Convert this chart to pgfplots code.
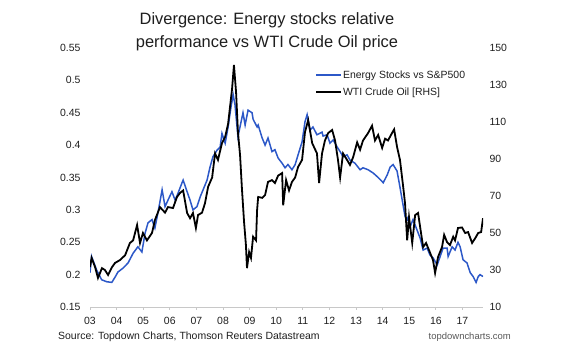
\documentclass[border=0pt]{standalone}
\usepackage{pgfplots}
\pgfplotsset{compat=1.18}
\usepackage{fontspec}
\setmainfont{Liberation Sans}
\definecolor{eblue}{RGB}{44,88,200}
\definecolor{axgray}{RGB}{200,200,200}
\definecolor{txt}{RGB}{30,30,30}

\pgfplotstableread{
yr val
2003.00 0.203
2003.06 0.228
2003.25 0.207
2003.44 0.192
2003.63 0.189
2003.82 0.188
2003.94 0.196
2004.05 0.204
2004.24 0.210
2004.43 0.218
2004.62 0.233
2004.80 0.243
2004.95 0.235
2005.07 0.264
2005.18 0.280
2005.33 0.285
2005.44 0.272
2005.56 0.297
2005.71 0.331
2005.82 0.305
2005.93 0.315
2006.08 0.328
2006.20 0.315
2006.31 0.326
2006.46 0.342
2006.50 0.346
2006.65 0.328
2006.76 0.315
2006.87 0.300
2007.02 0.305
2007.14 0.320
2007.25 0.331
2007.40 0.346
2007.51 0.366
2007.62 0.382
2007.77 0.392
2007.89 0.397
2007.96 0.418
2008.08 0.403
2008.19 0.428
2008.30 0.459
2008.38 0.478
2008.45 0.462
2008.56 0.413
2008.75 0.450
2008.83 0.431
2008.94 0.454
2009.09 0.450
2009.13 0.440
2009.28 0.428
2009.32 0.431
2009.47 0.411
2009.58 0.400
2009.69 0.411
2009.84 0.390
2009.95 0.393
2010.07 0.380
2010.22 0.372
2010.33 0.365
2010.44 0.370
2010.59 0.362
2010.71 0.370
2010.82 0.385
2010.97 0.405
2011.08 0.436
2011.16 0.447
2011.27 0.423
2011.38 0.428
2011.53 0.416
2011.72 0.420
2011.76 0.414
2011.91 0.416
2012.02 0.403
2012.14 0.408
2012.29 0.397
2012.40 0.390
2012.51 0.382
2012.66 0.385
2012.77 0.377
2012.96 0.372
2013.15 0.362
2013.26 0.365
2013.45 0.362
2013.64 0.357
2013.83 0.350
2014.02 0.342
2014.17 0.354
2014.28 0.366
2014.39 0.370
2014.54 0.360
2014.65 0.335
2014.73 0.316
2014.84 0.290
2014.92 0.285
2014.95 0.288
2015.03 0.274
2015.14 0.285
2015.29 0.269
2015.41 0.256
2015.52 0.238
2015.67 0.241
2015.78 0.230
2015.89 0.226
2016.05 0.215
2016.16 0.228
2016.27 0.241
2016.42 0.241
2016.46 0.228
2016.61 0.243
2016.72 0.238
2016.83 0.250
2016.91 0.243
2017.02 0.223
2017.17 0.218
2017.29 0.203
2017.40 0.197
2017.51 0.188
2017.59 0.197
2017.66 0.200
2017.77 0.197
}\energy

\pgfplotstableread{
yr val
2003.00 31.6
2003.06 36.5
2003.19 31.6
2003.30 25.7
2003.45 31.0
2003.56 30.0
2003.68 27.3
2003.83 31.6
2003.94 33.8
2004.13 35.4
2004.32 38.0
2004.50 44.6
2004.62 46.0
2004.77 54.3
2004.88 44.6
2004.99 50.0
2005.14 46.0
2005.33 50.0
2005.44 57.0
2005.63 64.0
2005.82 61.0
2005.93 64.0
2006.12 63.5
2006.27 69.5
2006.38 71.6
2006.50 73.0
2006.65 60.8
2006.76 58.0
2006.87 60.8
2006.98 52.7
2007.06 59.7
2007.21 61.0
2007.32 66.0
2007.44 75.0
2007.59 80.0
2007.70 93.0
2007.81 89.5
2007.96 98.6
2008.08 102.0
2008.19 109.0
2008.34 128.0
2008.41 140.8
2008.49 126.0
2008.56 104.6
2008.64 92.0
2008.71 74.0
2008.79 56.0
2008.86 43.5
2008.90 31.0
2008.98 39.7
2009.05 36.5
2009.13 48.0
2009.24 46.0
2009.28 62.4
2009.32 69.5
2009.47 69.0
2009.58 70.5
2009.69 77.6
2009.84 78.6
2009.95 77.0
2010.07 81.0
2010.22 82.4
2010.26 65.0
2010.37 78.6
2010.48 73.0
2010.59 77.6
2010.71 80.0
2010.82 85.7
2010.97 89.5
2011.08 104.6
2011.20 111.0
2011.35 98.6
2011.53 93.0
2011.61 77.0
2011.72 93.0
2011.83 100.0
2011.95 104.0
2012.10 105.7
2012.21 100.0
2012.32 89.5
2012.40 80.0
2012.51 93.0
2012.66 89.5
2012.77 86.8
2012.89 91.0
2013.04 99.0
2013.15 95.0
2013.26 100.0
2013.45 104.0
2013.60 108.0
2013.71 100.0
2013.83 103.0
2013.98 96.0
2014.09 101.0
2014.20 100.0
2014.35 104.0
2014.43 106.0
2014.54 96.5
2014.65 89.5
2014.77 75.0
2014.84 66.0
2014.92 46.0
2014.99 58.6
2015.11 44.6
2015.22 59.7
2015.33 60.8
2015.41 53.0
2015.52 42.4
2015.63 44.6
2015.74 40.8
2015.89 35.4
2015.97 28.4
2016.08 37.0
2016.23 42.4
2016.31 49.0
2016.42 45.0
2016.53 43.5
2016.65 48.0
2016.72 46.0
2016.83 52.7
2016.98 53.0
2017.10 50.0
2017.21 50.5
2017.36 44.6
2017.47 47.0
2017.59 50.0
2017.70 50.5
2017.77 58.0
}\oil

\begin{document}
\begin{tikzpicture}
\useasboundingbox (0,0) rectangle (570bp,352bp);
\pgfplotsset{
  base/.style={
    at={(90bp,45bp)}, anchor=south west,
    scale only axis, width=393bp, height=259bp,
    xmin=2003, xmax=2017.77,
    /pgf/number format/assume math mode=true,
    ticklabel style={font=\fontsize{10.5}{12}\selectfont, text=txt},
  }
}
\begin{axis}[base,
  ymin=0.15, ymax=0.55,
  ytick={0.15,0.2,0.25,0.3,0.35,0.4,0.45,0.5,0.55},
  yticklabels={0.15,0.2,0.25,0.3,0.35,0.4,0.45,0.5,0.55},
  axis x line*=bottom, axis y line*=left,
  x axis line style={draw=axgray, line width=0.8bp, -},
  y axis line style={draw=none},
  xtick={2003,2004,...,2017},
  xticklabels={03,04,05,06,07,08,09,10,11,12,13,14,15,16,17},
  major x tick style={draw=axgray, line width=0.8bp},
  major y tick style={draw=none},
  tick align=outside, major tick length=3bp,
  xticklabel style={yshift=-4bp},
  yticklabel style={xshift=-3bp},
]
\addplot[eblue, line width=1.5bp] table[x=yr,y=val] {\energy};
\end{axis}
\begin{axis}[base,
  ymin=10, ymax=150,
  ytick={10,30,...,150},
  axis y line*=right, axis x line=none,
  y axis line style={draw=none},
  major y tick style={draw=none},
  yticklabel style={xshift=3bp},
  legend style={at={(0.565,0.925)}, anchor=north west, draw=none, fill=none,
    font=\fontsize{10.5}{12}\selectfont, row sep=6bp,
    nodes={inner sep=1bp, text=txt}},
  legend cell align=left,
  legend image code/.code={\draw[#1] (0bp,0bp) -- (25bp,0bp);},
]
\addlegendimage{eblue, line width=1.5bp}
\addlegendentry{Energy Stocks vs S\&P500}
\addplot[black, line width=1.8bp] table[x=yr,y=val] {\oil};
\addlegendentry{WTI Crude Oil [RHS]}
\end{axis}
\node[align=center, font=\fontsize{16.5}{23}\selectfont, text=txt] at (267bp,320.5bp)
  {Divergence: Energy stocks relative\\performance vs WTI Crude Oil price};
\node[anchor=west, font=\fontsize{10.5}{12}\selectfont, text=txt, inner sep=0pt] at (58bp,15bp)
  {Source: Topdown Charts, Thomson Reuters Datastream};
\node[anchor=east, font=\fontsize{9.5}{11}\selectfont, text=black!65, inner sep=0pt] at (511bp,15bp)
  {topdowncharts.com};
\end{tikzpicture}
\end{document}
